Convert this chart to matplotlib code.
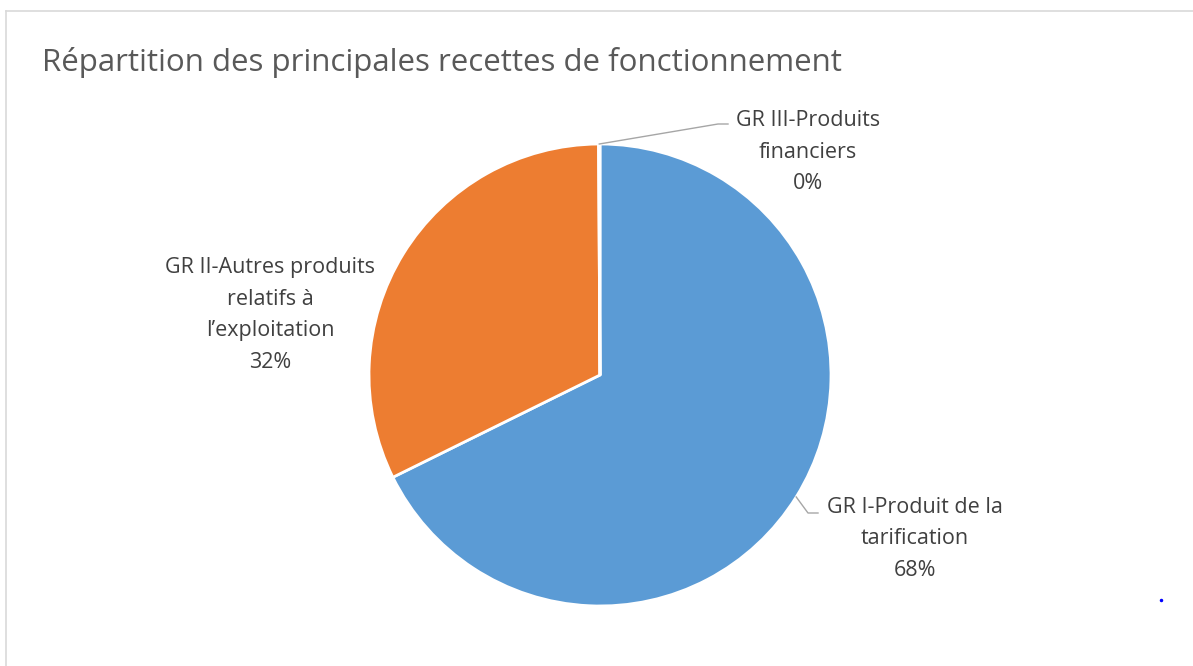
import numpy as np
import matplotlib.pyplot as plt
from matplotlib.lines import Line2D

TITLE = "Répartition des principales recettes de fonctionnement"
labels = [
    "GR I-Produit de la\ntarification",
    "GR II-Autres produits\nrelatifs à\nl\u2019exploitation",
    "GR III-Produits\nfinanciers",
]
values = [67.7, 32.2, 0.1]
colors = ["#5B9BD5", "#ED7D31", "#A5A5A5"]

W, H = 1193, 666
CX, CY, R = 600, H - 375, 231
# label centres (pixels, y down) and leader elbow (x, y, end x)
label_pos = [(915, 539), (270, 315), (808, 152)]
leader_end = [(808, 513, 818), None, (718, 124, 728)]

plt.rcParams["font.family"] = ["Open Sans", "DejaVu Sans"]

fig = plt.figure(figsize=(W / 100, H / 100), dpi=100)
ax = fig.add_axes([0, 0, 1, 1])

# chart frame
fig.add_artist(Line2D([6 / W, 1], [1 - 11 / H, 1 - 11 / H], color="#D9D9D9", lw=1.2))
fig.add_artist(Line2D([6 / W, 6 / W], [0, 1 - 11 / H], color="#D9D9D9", lw=1.2))

wedges, _ = ax.pie(values, colors=colors, startangle=90, counterclock=False,
                   center=(CX, CY), radius=R, frame=True,
                   wedgeprops=dict(edgecolor="white", linewidth=2))
ax.set_xlim(0, W)
ax.set_ylim(0, H)
ax.set_aspect("equal")
ax.axis("off")

ax.text(42, H - 63, TITLE, fontsize=22.5, color="#595959", va="center", ha="left")

total = sum(values)
for w, lab, val, pos, lead in zip(wedges, labels, values, label_pos, leader_end):
    ax.text(pos[0], H - pos[1], f"{lab}\n{round(val / total * 100)}%",
            ha="center", va="center", fontsize=15.5, color="#404040",
            linespacing=1.65)
    if lead is not None:
        mid = np.deg2rad((w.theta1 + w.theta2) / 2)
        px, py = CX + R * np.cos(mid), CY + R * np.sin(mid)
        ex, ey, hx = lead
        ax.plot([px, ex, hx], [py, H - ey, H - ey], color="#A6A6A6", lw=1)

ax.plot([1161], [H - 600], marker="o", ms=1.5, color="blue")

fig.savefig("out.png", dpi=100)
